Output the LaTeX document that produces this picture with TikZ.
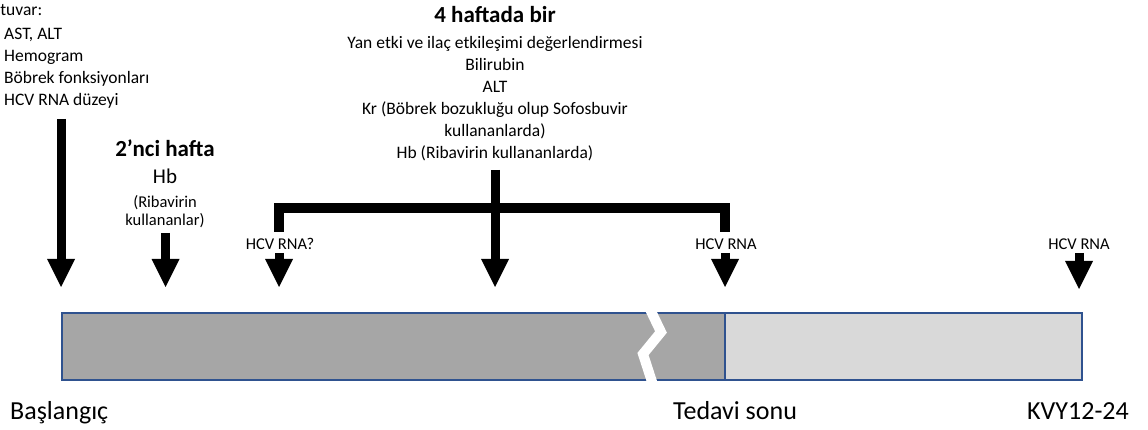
\documentclass[tikz,border=0pt]{standalone}
\usepackage{fontspec}
\setmainfont{Carlito}
\usetikzlibrary{arrows.meta}
\definecolor{barborder}{RGB}{47,82,143}
\definecolor{darkbar}{RGB}{166,166,166}
\definecolor{lightbar}{RGB}{217,217,217}
\begin{document}
\begin{tikzpicture}[x=1pt,y=-1pt,
  bigarrow/.style={line width=9pt,-{Triangle[width=28pt,length=28pt,line width=0pt]}},
  bracketline/.style={line width=10pt,line join=miter},
  bodytext/.style={font=\fontsize{17.5}{22}\selectfont,inner sep=0pt,align=center},
  listtext/.style={font=\fontsize{17.5}{22}\selectfont,inner sep=0pt,align=left},
  headtext/.style={font=\fontsize{23}{27}\bfseries\selectfont,inner sep=0pt},
  smalltext/.style={font=\fontsize{16.5}{18}\selectfont,inner sep=0pt,align=center},
  hcvtext/.style={font=\fontsize{16.5}{18}\selectfont,inner sep=0pt},
  labeltext/.style={font=\fontsize{26}{30}\selectfont,inner sep=0pt},
  barpart/.style={draw=barborder,line width=1.1pt}
]
\useasboundingbox (0,0) rectangle (1148,430);

% timeline bar
\draw[barpart,fill=darkbar] (62,313) rectangle (725,380);
\draw[barpart,fill=lightbar] (725,313) rectangle (1082,380);
\draw[white,line width=10pt,line join=miter] (648,305) -- (661,332) -- (643,354) -- (654,388);

% top-left block
\node[listtext,anchor=base west] (lab) at (-48,15.5) {Laboratuvar:};
\node[listtext,anchor=north west] (labitems) at (4,27.5) {AST, ALT\\Hemogram\\Böbrek fonksiyonları\\HCV RNA düzeyi};

% 2'nci hafta block
\node[headtext,anchor=base] (week2) at (165,157) {2’nci hafta};
\node[font=\fontsize{21}{24}\selectfont,inner sep=0pt,anchor=base] (hb) at (165,184) {Hb};
\node[smalltext,anchor=north] (riba) at (165,195.5) {(Ribavirin\\kullananlar)};

% 4 haftada bir block
\node[headtext,anchor=base] (week4) at (495,23) {4 haftada bir};
\node[bodytext,anchor=north] (items4) at (495,36) {Yan etki ve ilaç etkileşimi değerlendirmesi\\Bilirubin\\ALT\\Kr (Böbrek bozukluğu olup Sofosbuvir\\kullananlarda)\\Hb (Ribavirin kullananlarda)};

% HCV RNA labels
\node[hcvtext,anchor=base] (hcv1) at (280,249.5) {HCV RNA?};
\node[hcvtext,anchor=base] (hcv2) at (726,249.5) {HCV RNA};
\node[hcvtext,anchor=base] (hcv3) at (1079,249.5) {HCV RNA};

% bottom labels
\node[labeltext,anchor=base west] (start) at (10,419) {Başlangıç};
\node[labeltext,anchor=base west] (endtr) at (673,419) {Tedavi sonu};
\node[labeltext,anchor=base west] (svr) at (1027,419) {KVY12-24};

% arrow coordinates
\coordinate (a1s) at (61,119);   \coordinate (a1e) at (61,287);
\coordinate (a2s) at (165.5,233); \coordinate (a2e) at (165.5,287);
\coordinate (a3s) at (279,253);  \coordinate (a3e) at (279,287);
\coordinate (a4s) at (495,170);  \coordinate (a4e) at (495,287);
\coordinate (a5s) at (725,253);  \coordinate (a5e) at (725,287);
\coordinate (a6s) at (1079,253); \coordinate (a6e) at (1079,289);
\coordinate (bl) at (279,232); \coordinate (blc) at (279,208);
\coordinate (brc) at (725,208); \coordinate (br) at (725,232);

% bracket
\draw[bracketline] (bl) -- (blc) -- (brc) -- (br);

% arrows
\draw[bigarrow] (a1s) -- (a1e);
\draw[bigarrow] (a2s) -- (a2e);
\draw[bigarrow] (a3s) -- (a3e);
\draw[bigarrow] (a4s) -- (a4e);
\draw[bigarrow] (a5s) -- (a5e);
\draw[bigarrow] (a6s) -- (a6e);
\end{tikzpicture}
\end{document}
